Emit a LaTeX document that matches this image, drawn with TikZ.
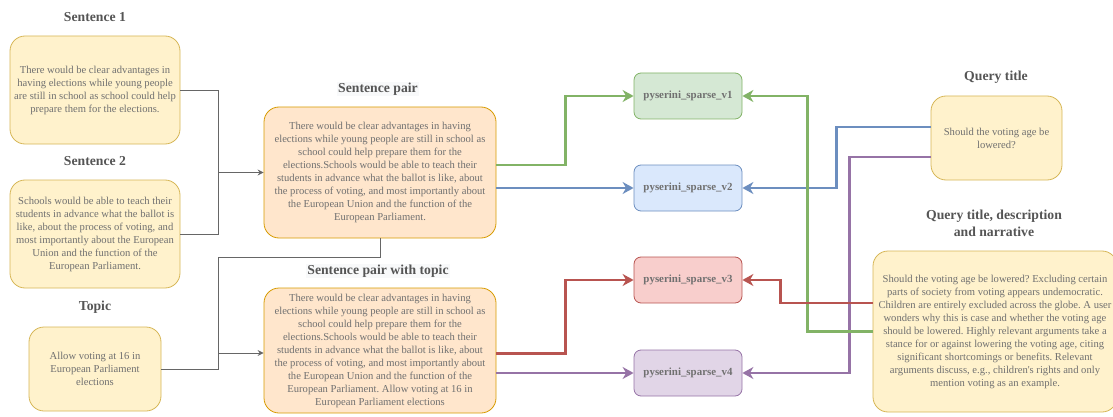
\documentclass[tikz,border=0pt]{standalone}
\usepackage{fontspec}
\setmainfont{Liberation Serif}
\usetikzlibrary{arrows.meta,calc}
\frenchspacing
\definecolor{txt}{HTML}{707070}
\definecolor{ttl}{HTML}{555555}
\definecolor{yfill}{HTML}{FFF2CC}\definecolor{ydraw}{HTML}{D6B656}
\definecolor{ofill}{HTML}{FFE6CC}\definecolor{odraw}{HTML}{D79B00}
\definecolor{gfill}{HTML}{D5E8D4}\definecolor{gdraw}{HTML}{82B366}
\definecolor{bfill}{HTML}{DAE8FC}\definecolor{bdraw}{HTML}{6C8EBF}
\definecolor{rfill}{HTML}{F8CECC}\definecolor{rdraw}{HTML}{B85450}
\definecolor{pfill}{HTML}{E1D5E7}\definecolor{pdraw}{HTML}{9673A6}
\definecolor{gline}{HTML}{666666}
\definecolor{tbg}{HTML}{F8F9FA}
\tikzset{
  body/.style={font=\fontsize{10.6}{13}\selectfont, text=txt, align=center},
  ybox/.style={body, draw=ydraw, fill=yfill, rounded corners=15pt, line width=0.8pt, inner sep=0pt},
  obox/.style={body, draw=odraw, fill=ofill, rounded corners=15pt, line width=0.8pt, inner sep=0pt},
  pbox/.style={font=\fontsize{10.9}{12}\selectfont\bfseries, text=txt, rounded corners=7pt, line width=0.8pt, minimum width=108pt, minimum height=46pt, inner sep=0pt},
  ttlnode/.style={font=\fontsize{13.7}{17}\selectfont\bfseries, text=ttl, align=center, inner sep=1pt},
  garrow/.style={draw=gline, line width=0.9pt, -{Stealth[length=6pt,width=6pt,inset=2pt]}},
  gline/.style={draw=gline, line width=0.9pt},
  carrow/.style={line width=2.3pt, -{Stealth[length=11pt,width=12pt,inset=3.5pt]}},
}
\begin{document}
\begin{tikzpicture}[x=1pt,y=-1pt]
\useasboundingbox (0,0) rectangle (1113,417);
\clip (0,0) rectangle (1113,417);
% titles
\node[ttlnode] (t1) at (95,17) {Sentence 1};
\node[ttlnode] (t2) at (95,161) {Sentence 2};
\node[ttlnode] (t3) at (95,307) {Topic};
\node[ttlnode, fill=tbg] (t4) at (378,89) {Sentence pair};
\node[ttlnode, fill=tbg] (t5) at (378,271) {Sentence pair with topic};
\node[ttlnode] (t6) at (996,77) {Query title};
\node[ttlnode] (t7) at (994,223) {Query title, description\\and narrative};
% left boxes
\node[ybox, minimum width=170pt, minimum height=108pt] (s1) at (95,90)
 {There would be clear advantages in\\having elections while young people\\are still in school as school could help\\prepare them for the elections.};
\node[ybox, minimum width=170pt, minimum height=108pt] (s2) at (95,234)
 {Schools would be able to teach their\\students in advance what the ballot is\\like, about the process of voting, and\\most importantly about the European\\Union and the function of the\\European Parliament.};
\node[ybox, minimum width=132pt, minimum height=84pt] (tp) at (95,369)
 {Allow voting at 16 in\\European Parliament\\elections};
% middle boxes
\node[obox, minimum width=232pt, minimum height=131pt] (sp) at (380,172.5)
 {There would be clear advantages in having\\elections while young people are still in school as\\school could help prepare them for the\\elections.Schools would be able to teach their\\students in advance what the ballot is like, about\\the process of voting, and most importantly about\\the European Union and the function of the\\European Parliament.};
\node[obox, minimum width=232pt, minimum height=125pt] (spt) at (380,350.5)
 {There would be clear advantages in having\\elections while young people are still in school as\\school could help prepare them for the\\elections.Schools would be able to teach their\\students in advance what the ballot is like, about\\the process of voting, and most importantly about\\the European Union and the function of the\\European Parliament. Allow voting at 16 in\\European Parliament elections};
% pyserini
\node[pbox, draw=gdraw, fill=gfill] (v1) at (688,96) {pyserini\_sparse\_v1};
\node[pbox, draw=bdraw, fill=bfill] (v2) at (688,188) {pyserini\_sparse\_v2};
\node[pbox, draw=rdraw, fill=rfill] (v3) at (688,280) {pyserini\_sparse\_v3};
\node[pbox, draw=pdraw, fill=pfill] (v4) at (688,373) {pyserini\_sparse\_v4};
% right boxes
\node[ybox, minimum width=131pt, minimum height=84pt] (qt) at (996.5,138)
 {Should the voting age be\\lowered?};
\node[ybox, minimum width=244pt, minimum height=161pt] (nr) at (995,331.5)
 {Should the voting age be lowered? Excluding certain\\parts of society from voting appears undemocratic.\\Children are entirely excluded across the globe. A user\\wonders why this is case and whether the voting age\\should be lowered. Highly relevant arguments take a\\stance for or against lowering the voting age, citing\\significant shortcomings or benefits. Relevant\\arguments discuss, e.g., children\textquotesingle s rights and only\\mention voting as an example.};
% gray connectors
\coordinate (j1) at (218,172.5);
\coordinate (c2) at (218,257);
\coordinate (j2) at (218,353);
\draw[gline] (s1.east) -| (j1);
\draw[gline] (s2.east) -| (j1);
\draw[garrow] (j1) -- (sp.west);
\draw[gline] (sp.south) |- (c2) -- (j2);
\draw[gline] (tp.east) -| (j2);
\draw[garrow] (j2) -- (j2 -| spt.west);
% colored connectors
\draw[carrow, draw=pdraw] (spt.east |- v4) -- (v4.west);
\draw[carrow, draw=pdraw] ($(qt.west)+(0,19)$) -- ++(-81,0) |- (v4.east);
\draw[carrow, draw=bdraw] (sp.east |- v2) -- (v2.west);
\draw[carrow, draw=bdraw] ($(qt.west)+(0,-11)$) -- ++(-94,0) |- (v2.east);
\draw[carrow, draw=gdraw] ($(sp.east)+(0,-7.5)$) -- ++(69,0) |- (v1.west);
\draw[carrow, draw=gdraw] (nr.west) -- ++(-65,0) |- (v1.east);
\draw[carrow, draw=rdraw] ($(spt.east)+(0,3)$) -- ++(69,0) |- (v3.west);
\draw[carrow, draw=rdraw] ($(nr.west)+(0,-28.5)$) -- ++(-92,0) |- (v3.east);
\end{tikzpicture}
\end{document}
